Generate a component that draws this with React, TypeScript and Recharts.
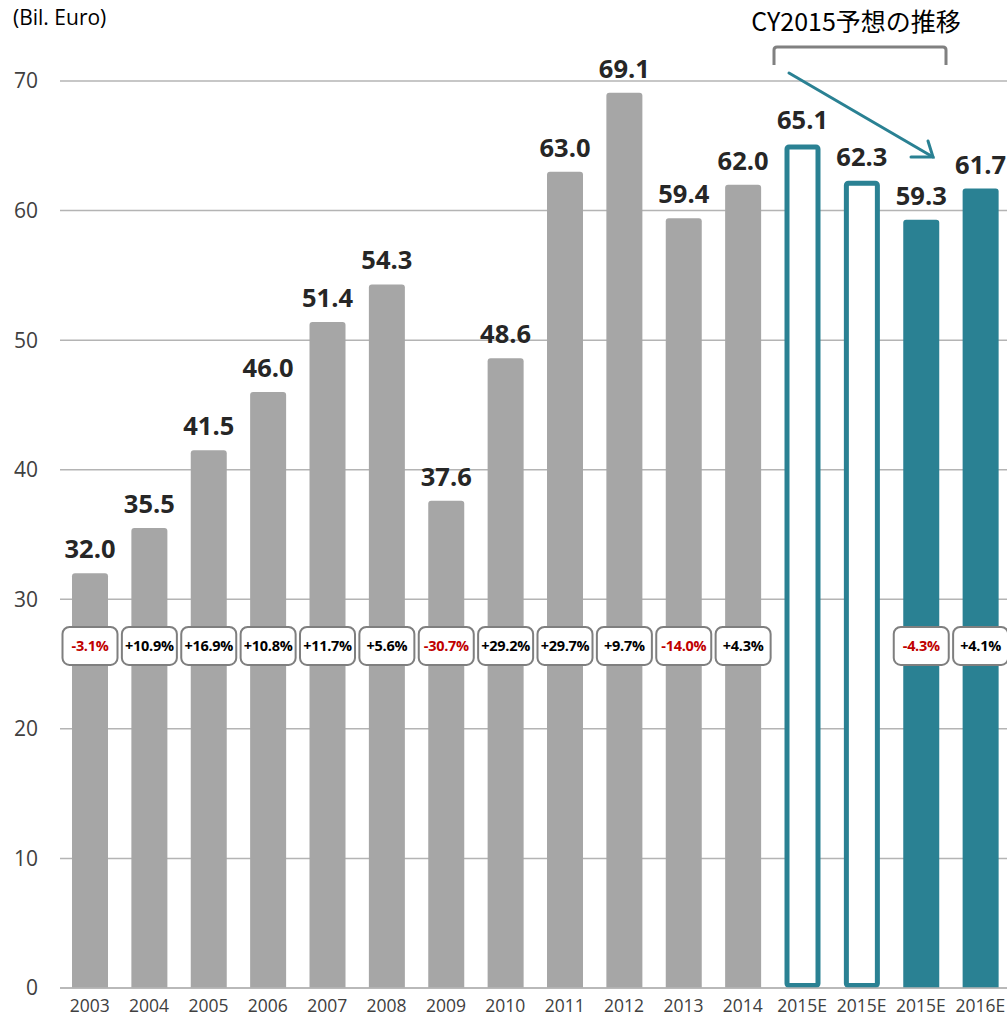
import React from 'react';
import {Bar, BarChart, CartesianGrid, LabelList, XAxis, YAxis} from 'recharts';

// categories and values
const years = [
  '2003', '2004', '2005', '2006', '2007', '2008', '2009', '2010',
  '2011', '2012', '2013', '2014', '2015E', '2015E', '2015E', '2016E',
];
const sales = [
  32.0, 35.5, 41.5, 46.0, 51.4, 54.3, 37.6, 48.6,
  63.0, 69.1, 59.4, 62.0, 65.1, 62.3, 59.3, 61.7,
];
const growth = [
  '-3.1%', '+10.9%', '+16.9%', '+10.8%', '+11.7%', '+5.6%', '-30.7%', '+29.2%',
  '+29.7%', '+9.7%', '-14.0%', '+4.3%', null, null, '-4.3%', '+4.1%',
];
// actual / outlined forecast / filled forecast
const kinds = [
  'actual', 'actual', 'actual', 'actual', 'actual', 'actual', 'actual', 'actual',
  'actual', 'actual', 'actual', 'actual', 'outline', 'outline', 'forecast', 'forecast',
];
const yTicks = [0, 10, 20, 30, 40, 50, 60, 70];

// level (in Euro bn) where the growth boxes sit
const BOX_LEVEL = 26.4;

const GRAY = '#A6A6A6';
const TEAL = '#2A8193';
const RED = '#C00000';
const FONT = '"Open Sans", "Noto Sans", sans-serif';

const data = years.map((year, i) => ({
  year,
  value: sales[i],
  growth: growth[i],
  kind: kinds[i],
}));

const BarShape = (props: any) => {
  const {x, y, width, height, payload} = props;
  if (payload.kind === 'outline') {
    const sw = 5;
    return (
      <rect
        x={x + sw / 2}
        y={y + sw / 2}
        width={width - sw}
        height={height - sw}
        rx={2}
        fill="#fff"
        stroke={TEAL}
        strokeWidth={sw}
      />
    );
  }
  return (
    <path
      d={`M${x},${y + height} L${x},${y + 3} Q${x},${y} ${x + 3},${y} L${x + width - 3},${y} Q${x + width},${y} ${x + width},${y + 3} L${x + width},${y + height} Z`}
      fill={payload.kind === 'actual' ? GRAY : TEAL}
    />
  );
};

const GrowthBox = (props: any) => {
  const {x, y, width, height, value, index} = props;
  if (!value) return null;
  // px per unit from the bar itself
  const bottom = y + height;
  const cy = bottom - (height / sales[index]) * BOX_LEVEL;
  const cx = x + width / 2;
  const w = 55;
  const h = 38;
  return (
    <g>
      <rect
        x={cx - w / 2}
        y={cy - h / 2}
        width={w}
        height={h}
        rx={7}
        fill="#fff"
        stroke="#7F7F7F"
        strokeWidth={2}
      />
      <text
        x={cx}
        y={cy}
        textAnchor="middle"
        dominantBaseline="central"
        fontFamily={FONT}
        fontWeight={700}
        fontSize={14.5}
        letterSpacing={-0.3}
        fill={value.startsWith('-') ? RED : '#000'}>
        {value}
      </text>
    </g>
  );
};

const Annotations = () => (
  <svg
    width={1007}
    height={1022}
    style={{position: 'absolute', left: 0, top: 0, pointerEvents: 'none'}}>
    <text x={13} y={25} fontFamily={FONT} fontSize={21} fill="#000">
      (Bil. Euro)
    </text>
    <text
      x={856}
      y={31}
      textAnchor="middle"
      fontFamily='"Noto Sans CJK JP", sans-serif'
      fontSize={25}
      fill="#000">
      CY2015予想の推移
    </text>
    <path
      d="M774,65 L774,50 Q774,47 777,47 L943,47 Q946,47 946,50 L946,65"
      fill="none"
      stroke="#808080"
      strokeWidth={3}
    />
    <g stroke={TEAL} strokeWidth={3} fill="none" strokeLinecap="round">
      <line x1={789} y1={73} x2={933} y2={157} />
      <polyline points="911,157 933,157 928,141" />
    </g>
  </svg>
);

export default function App() {
  return (
    <div
      style={{
        position: 'absolute',
        left: 0,
        top: 0,
        width: 1007,
        height: 1022,
        overflow: 'hidden',
        background: '#fff',
      }}>
      <BarChart
        width={1012}
        height={1022}
        data={data}
        margin={{top: 81, right: 2, left: 0, bottom: 0}}
        barSize={36}>
        <CartesianGrid vertical={false} stroke="#B4B4B4" strokeWidth={1.5} />
        <XAxis
          dataKey="year"
          height={34}
          axisLine={{stroke: '#B4B4B4', strokeWidth: 1.5}}
          tickLine={false}
          tickSize={0}
          tickMargin={12}
          interval={0}
          tick={{fill: '#404040', fontSize: 17.5, fontFamily: FONT}}
        />
        <YAxis
          width={60}
          domain={[0, 70]}
          ticks={yTicks}
          axisLine={false}
          tickLine={false}
          tickSize={0}
          tickMargin={22}
          tick={{fill: '#404040', fontSize: 21, fontFamily: FONT}}
        />
        <Bar dataKey="value" shape={BarShape} isAnimationActive={false}>
          <LabelList
            dataKey="value"
            position="top"
            offset={15}
            formatter={(v: any) => Number(v).toFixed(1)}
            style={{
              fill: '#262626',
              fontSize: 25.5,
              fontWeight: 700,
              fontFamily: FONT,
            }}
          />
          <LabelList dataKey="growth" content={GrowthBox} />
        </Bar>
      </BarChart>
      <Annotations />
    </div>
  );
}
